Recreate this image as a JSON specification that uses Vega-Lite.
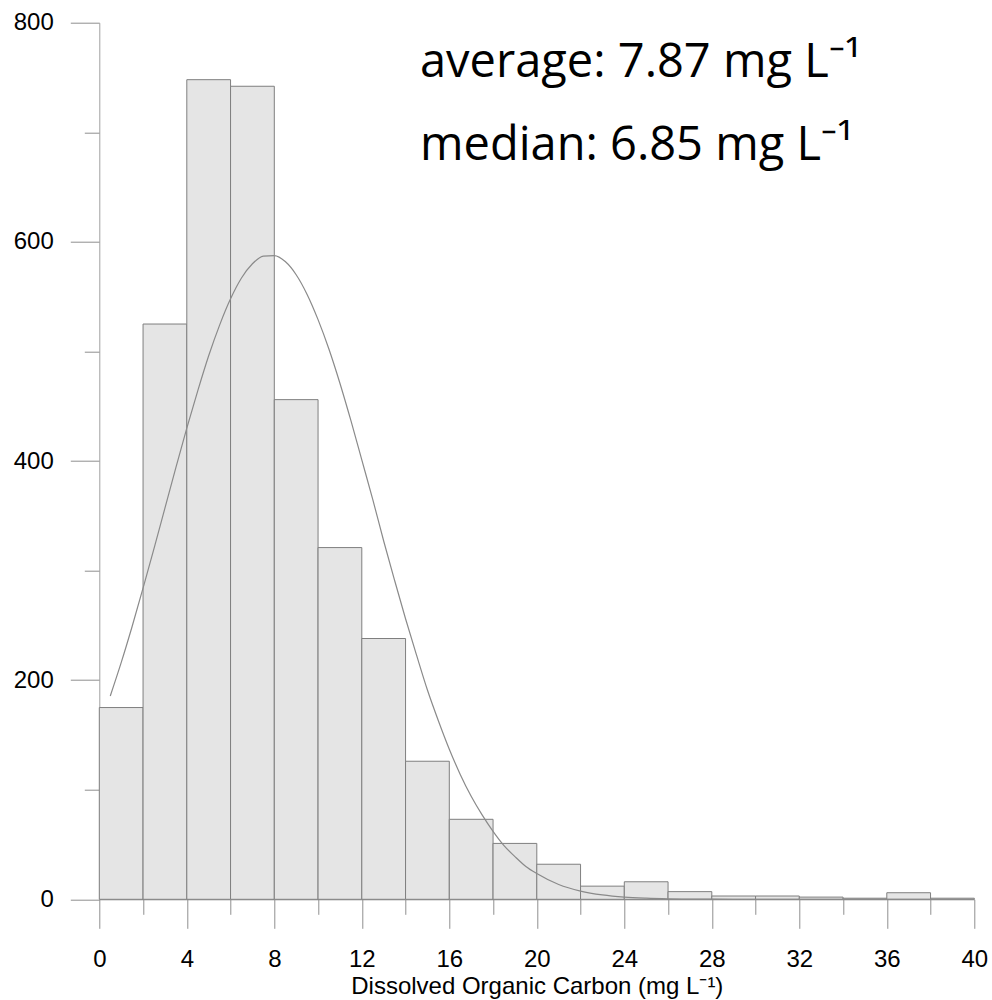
{
  "$schema": "https://vega.github.io/schema/vega-lite/v6.json",
  "autosize": {"type": "none"},
  "width": 875,
  "height": 876.6,
  "padding": {"left": 99.3, "top": 22.7, "right": 17.7, "bottom": 100.7},
  "background": "white",
  "config": {"view": {"stroke": null}, "font": "Liberation Sans"},
  "datasets": {
    "hist": [
      {"bin_start": 0, "bin_end": 2, "count": 175},
      {"bin_start": 2, "bin_end": 4, "count": 525},
      {"bin_start": 4, "bin_end": 6, "count": 748},
      {"bin_start": 6, "bin_end": 8, "count": 742},
      {"bin_start": 8, "bin_end": 10, "count": 456},
      {"bin_start": 10, "bin_end": 12, "count": 321},
      {"bin_start": 12, "bin_end": 14, "count": 238},
      {"bin_start": 14, "bin_end": 16, "count": 126},
      {"bin_start": 16, "bin_end": 18, "count": 73},
      {"bin_start": 18, "bin_end": 20, "count": 51},
      {"bin_start": 20, "bin_end": 22, "count": 32},
      {"bin_start": 22, "bin_end": 24, "count": 12},
      {"bin_start": 24, "bin_end": 26, "count": 16},
      {"bin_start": 26, "bin_end": 28, "count": 7},
      {"bin_start": 28, "bin_end": 30, "count": 3},
      {"bin_start": 30, "bin_end": 32, "count": 3},
      {"bin_start": 32, "bin_end": 34, "count": 2},
      {"bin_start": 34, "bin_end": 36, "count": 1},
      {"bin_start": 36, "bin_end": 38, "count": 6},
      {"bin_start": 38, "bin_end": 40, "count": 1}
    ],
    "curve": [
      {"doc": 0.5, "freq": 185.5}, {"doc": 1, "freq": 216}, {"doc": 1.5, "freq": 249},
      {"doc": 2, "freq": 284}, {"doc": 2.5, "freq": 320}, {"doc": 3, "freq": 357},
      {"doc": 3.5, "freq": 394}, {"doc": 4, "freq": 430}, {"doc": 4.5, "freq": 464},
      {"doc": 5, "freq": 496}, {"doc": 5.5, "freq": 524}, {"doc": 6, "freq": 548},
      {"doc": 6.5, "freq": 567}, {"doc": 7, "freq": 580}, {"doc": 7.5, "freq": 587},
      {"doc": 8, "freq": 587.5}, {"doc": 8.5, "freq": 582}, {"doc": 9, "freq": 570},
      {"doc": 9.5, "freq": 552}, {"doc": 10, "freq": 529}, {"doc": 10.5, "freq": 502},
      {"doc": 11, "freq": 471}, {"doc": 11.5, "freq": 437}, {"doc": 12, "freq": 401},
      {"doc": 12.5, "freq": 365}, {"doc": 13, "freq": 327}, {"doc": 13.5, "freq": 291},
      {"doc": 14, "freq": 256}, {"doc": 14.5, "freq": 223}, {"doc": 15, "freq": 191},
      {"doc": 15.5, "freq": 163}, {"doc": 16, "freq": 137}, {"doc": 16.5, "freq": 114},
      {"doc": 17, "freq": 94}, {"doc": 17.5, "freq": 77}, {"doc": 18, "freq": 62},
      {"doc": 18.5, "freq": 49}, {"doc": 19, "freq": 39}, {"doc": 19.5, "freq": 30},
      {"doc": 20, "freq": 23.5}, {"doc": 21, "freq": 13.5}, {"doc": 22, "freq": 7.5},
      {"doc": 23, "freq": 4}, {"doc": 24, "freq": 2}, {"doc": 25, "freq": 1},
      {"doc": 26, "freq": 0.45}, {"doc": 27, "freq": 0.2}, {"doc": 28, "freq": 0.08},
      {"doc": 30, "freq": 0.01}, {"doc": 34, "freq": 0}, {"doc": 38, "freq": 0}
    ],
    "notes": [
      {"label": "average: 7.87 mg L\u207b\u00b9", "line": 1},
      {"label": "median: 6.85 mg L\u207b\u00b9", "line": 2}
    ]
  },
  "layer": [
    {
      "data": {"name": "hist"},
      "mark": {"type": "bar", "fill": "#e5e5e5", "stroke": "#7f7f7f", "strokeWidth": 1},
      "encoding": {
        "x": {
          "field": "bin_start", "type": "quantitative",
          "scale": {"domain": [0, 40], "nice": false, "zero": false},
          "axis": {
            "values": [0, 2, 4, 6, 8, 10, 12, 14, 16, 18, 20, 22, 24, 26, 28, 30, 32, 34, 36, 38, 40],
            "labelExpr": "datum.value % 4 === 0 ? datum.label : ''",
            "tickSize": {"condition": {"test": "datum.value % 4 === 0", "value": 29}, "value": 15},
            "labelOverlap": false,
            "labelFlush": false,
            "grid": false,
            "domainColor": "#8f8f8f",
            "tickColor": "#8f8f8f",
            "labelFontSize": 24,
            "labelColor": "#000000",
            "labelFont": "Liberation Sans",
            "labelPadding": 19,
            "title": "Dissolved Organic Carbon (mg L\u207b\u00b9)",
            "titleFont": "Liberation Sans",
            "titleFontSize": 24,
            "titleFontWeight": "normal",
            "titleColor": "#000000",
            "titlePadding": 3
          }
        },
        "x2": {"field": "bin_end"},
        "y": {
          "field": "count", "type": "quantitative",
          "scale": {"domain": [0, 800], "nice": false},
          "axis": {
            "values": [0, 100, 200, 300, 400, 500, 600, 700, 800],
            "labelExpr": "datum.value % 200 === 0 ? datum.label : ''",
            "tickSize": {"condition": {"test": "datum.value % 200 === 0", "value": 29}, "value": 15},
            "labelOverlap": false,
            "labelFlush": false,
            "grid": false,
            "domainColor": "#a0a0a0",
            "tickColor": "#8f8f8f",
            "labelFontSize": 24,
            "labelColor": "#000000",
            "labelFont": "Liberation Sans",
            "labelPadding": 17,
            "title": null
          }
        },
        "y2": {"datum": 0}
      }
    },
    {
      "data": {"name": "curve"},
      "mark": {"type": "line", "stroke": "#8a8a8a", "strokeWidth": 1.2, "interpolate": "monotone"},
      "encoding": {
        "x": {"field": "doc", "type": "quantitative"},
        "y": {"field": "freq", "type": "quantitative"}
      }
    },
    {
      "data": {"name": "notes"},
      "transform": [{"filter": "datum.line === 1"}],
      "mark": {"type": "text", "font": "Open Sans", "fontSize": 47, "align": "left", "baseline": "alphabetic", "color": "#000000"},
      "encoding": {
        "x": {"datum": 14.66, "type": "quantitative"},
        "y": {"datum": 750, "type": "quantitative"},
        "text": {"field": "label"}
      }
    },
    {
      "data": {"name": "notes"},
      "transform": [{"filter": "datum.line === 2"}],
      "mark": {"type": "text", "font": "Open Sans", "fontSize": 47, "align": "left", "baseline": "alphabetic", "color": "#000000"},
      "encoding": {
        "x": {"datum": 14.66, "type": "quantitative"},
        "y": {"datum": 674.5, "type": "quantitative"},
        "text": {"field": "label"}
      }
    }
  ]
}
